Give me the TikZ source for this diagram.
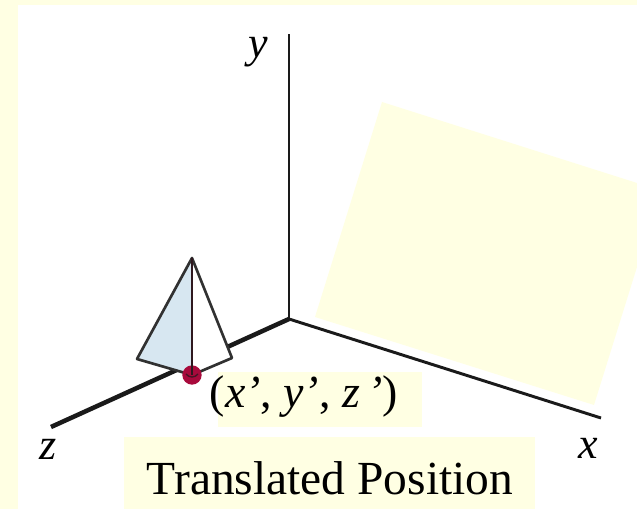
\documentclass[tikz,border=0pt]{standalone}
\usepackage{fontspec}
\setmainfont{Liberation Serif}
\definecolor{paleY}{HTML}{FFFFE3}
\definecolor{paleB}{HTML}{D7E7F1}
\definecolor{dotR}{HTML}{A80A3C}
\definecolor{inkK}{HTML}{1A1A1A}
\tikzset{
  axisline/.style={draw=inkK,line cap=butt},
  pyr/.style={draw=inkK!90!white,line width=2pt,line join=round},
  axlabel/.style={inner sep=0pt,font=\fontsize{33}{36}\selectfont\itshape},
  lab/.style={fill=paleY,inner sep=0pt}
}
\begin{document}
\begin{tikzpicture}[x=0.75pt,y=-0.75pt]
\useasboundingbox (0,0) rectangle (637,509);
\fill[paleY] (0,0) rectangle (637,509);
\fill[white] (18,5) rectangle (637,509);
\fill[paleY] (382,102) -- (637,183) -- (637,267) -- (594,405) -- (315,317) -- cycle;
\coordinate (o) at (289,319);
\coordinate (ye) at (289,34);
\coordinate (xe) at (601,418);
\coordinate (ze) at (51,427);
\draw[axisline,line width=2.2pt] (o) -- (ye);
\draw[axisline,line width=2.2pt] (o) -- (xe);
\draw[axisline,line width=3.4pt] (o) -- (ze);
\coordinate (pa) at (192,258);
\coordinate (pl) at (137,359);
\coordinate (pr) at (232,358);
\coordinate (pb) at (192,375);
\fill[white] (pa) -- (pr) -- (pb) -- cycle;
\fill[paleB] (pa) -- (pl) -- (pb) -- cycle;
\draw[pyr] (pb) -- (pl) -- (pa) -- (pr) -- cycle;
\node[circle,fill=dotR,minimum size=14.5pt,inner sep=0pt] (dot) at (pb) {};
\draw[pyr,draw=inkK!85!dotR] (pa) -- (pb);
\draw[draw=inkK!70!dotR,line width=1pt] (186,374) .. controls (189,378) and (195,378) .. (198,374);
\node[lab,minimum width=153pt,minimum height=41.25pt] (coordbox) at (320,399.5) {};
\node[lab,minimum width=308pt,minimum height=54pt] (namebox) at (329.5,473) {};
\node[inner sep=0pt,font=\fontsize{34.4}{40}\selectfont,anchor=base] (coord) at (304,408) {(\textit{x’}, \textit{y’}, \textit{z\,’})};
\node[inner sep=0pt,font=\fontsize{35.6}{40}\selectfont,anchor=base] (name) at (330,495) {Translated Position};
\node[axlabel,anchor=base] (ly) at (258,58) {y};
\node[axlabel,anchor=base] (lx) at (588,459) {x};
\node[axlabel,anchor=base] (lz) at (48,460) {z};
\end{tikzpicture}
\end{document}
